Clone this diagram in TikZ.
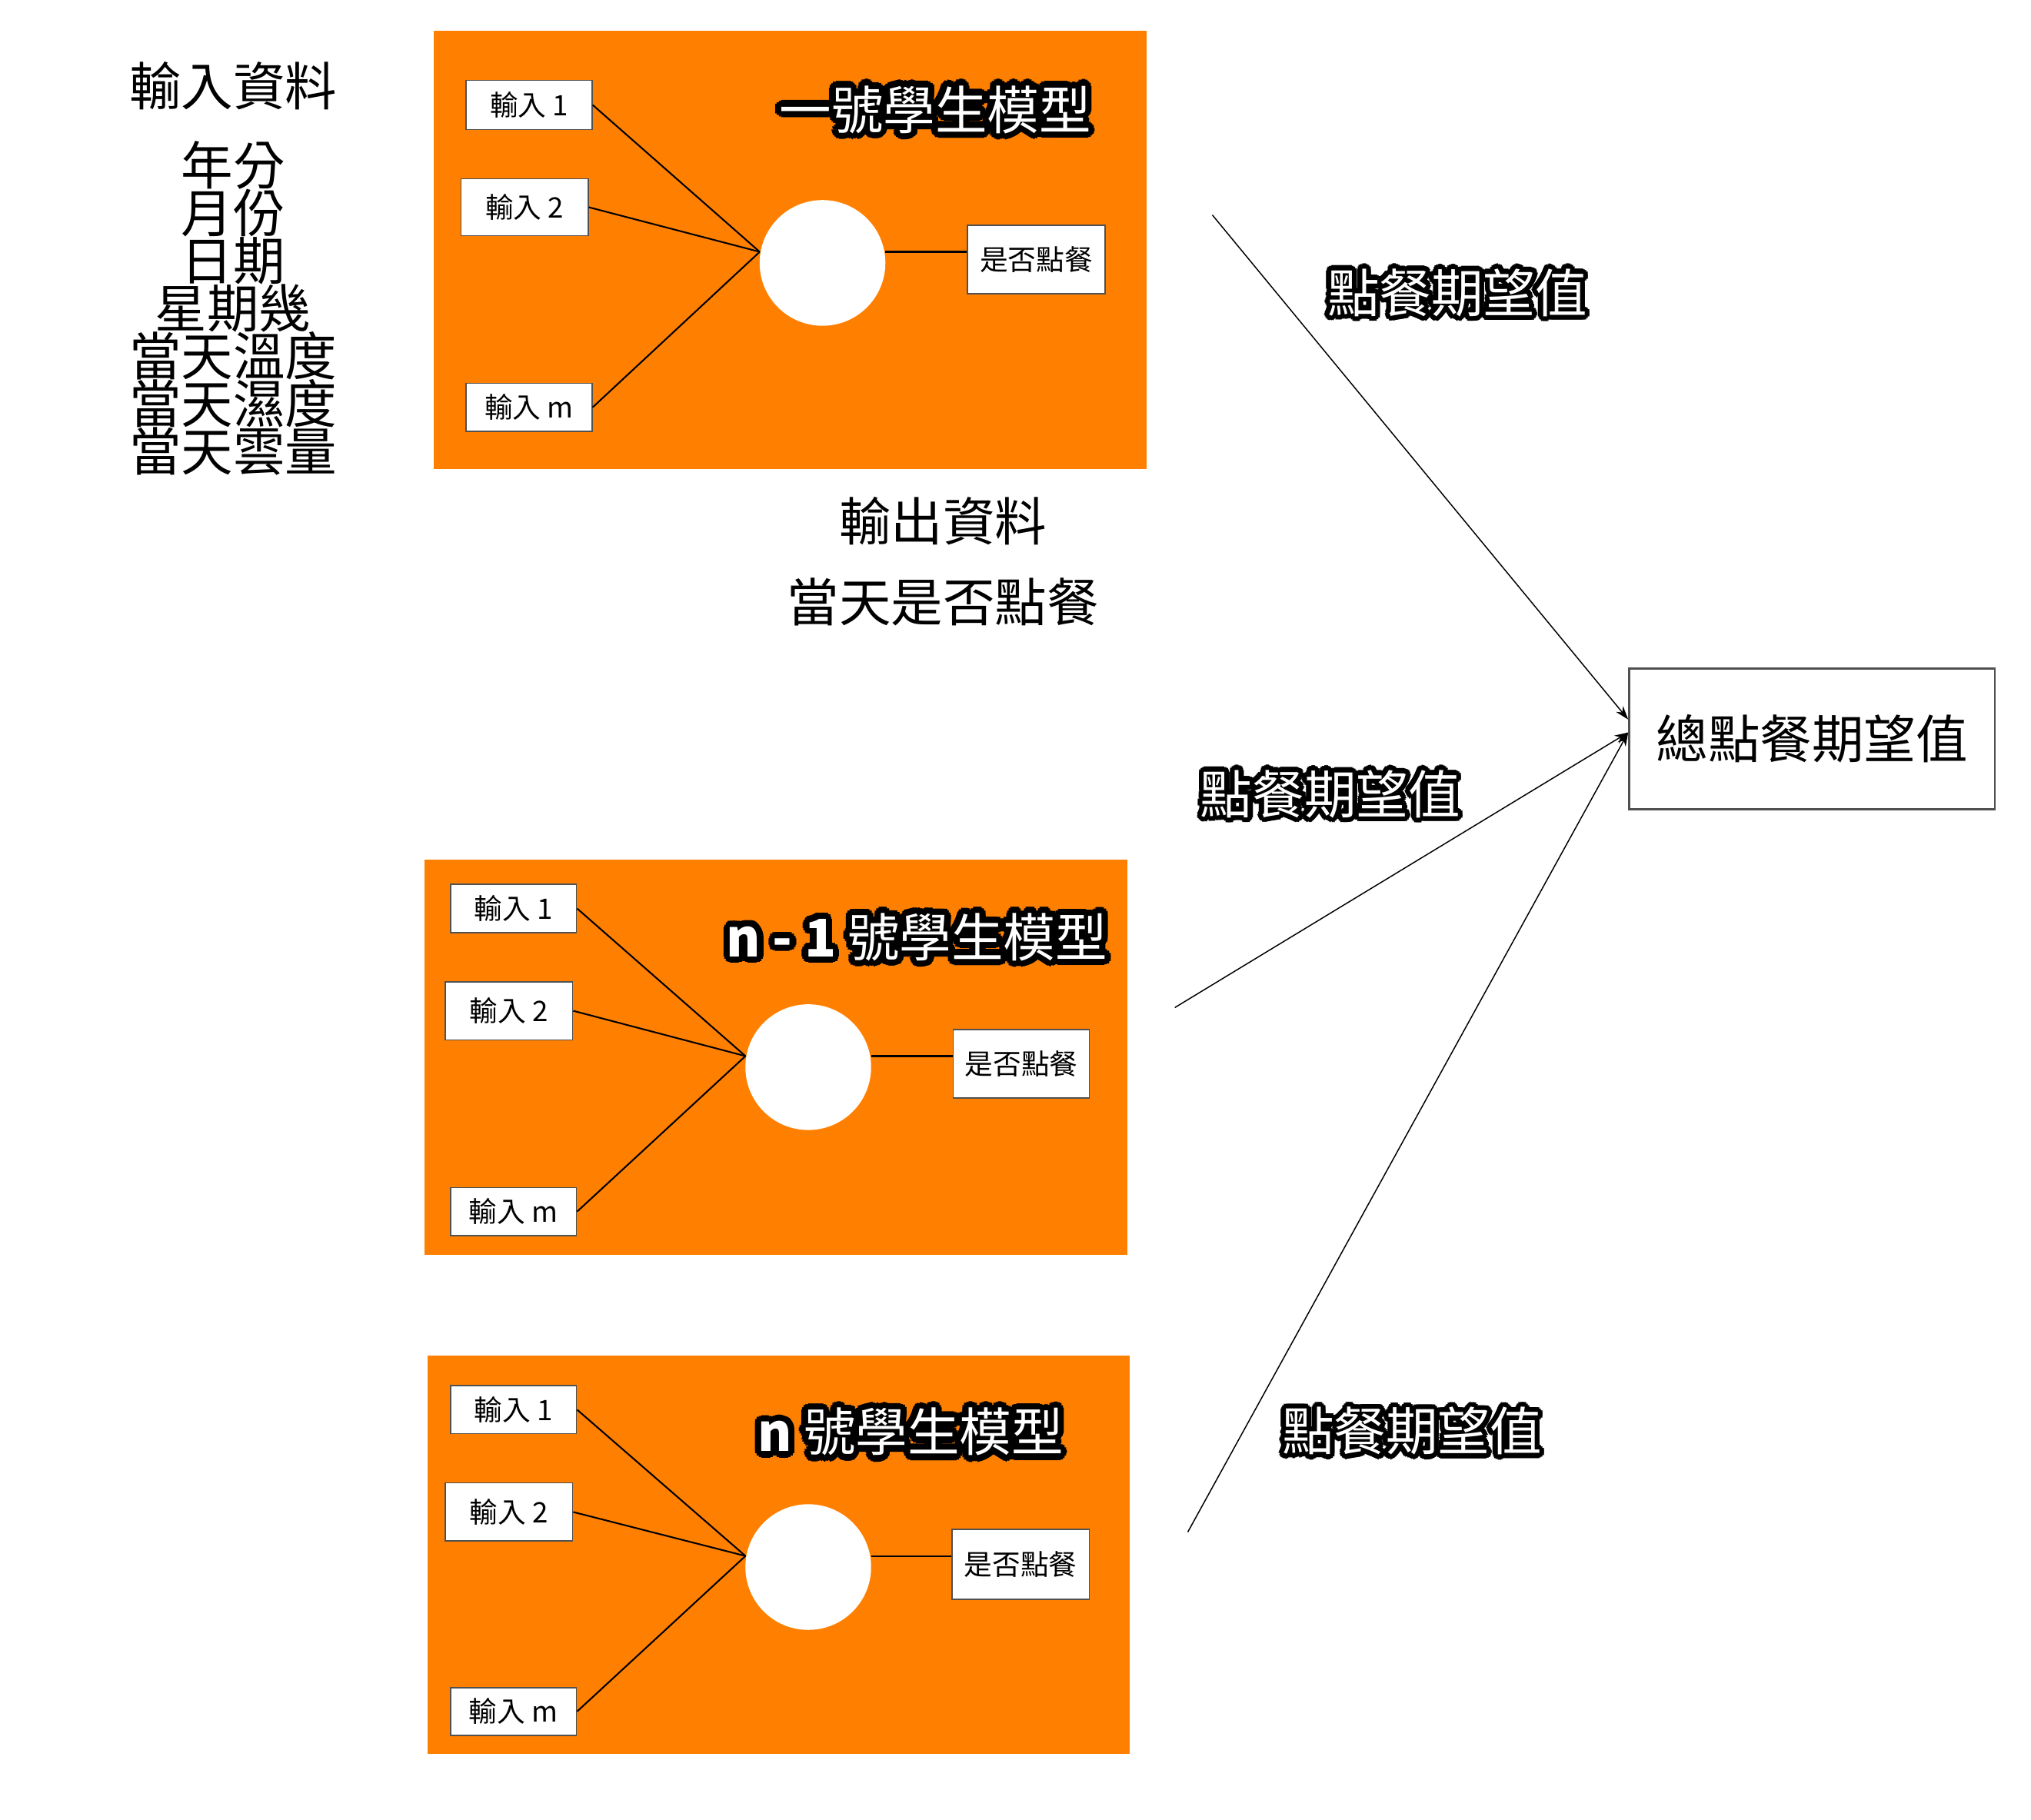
\documentclass[tikz,border=0pt]{standalone}
\usepackage{fontspec}
\setmainfont{Noto Sans CJK TC}
\usepackage{xcolor}
\usepackage{contour}
\definecolor{model}{HTML}{ff8000}
\definecolor{frame}{HTML}{505050}
\newcommand{\heading}[1]{\contourlength{1.4pt}{\color{white}\contour{black}{#1}}}
\newcommand{\glowtext}[1]{\contourlength{1.1pt}{\color{white}\contour{black}{#1}}}
\tikzset{
    modelbox/.style={fill=model, draw=none, inner sep=0pt},
    inbox/.style={draw=frame, line width=0.3pt, fill=white, inner sep=0pt,
        font=\fontsize{6.2}{7}\selectfont},
    neuron/.style={circle, fill=white, draw=none, minimum size=0.97cm, inner sep=0pt},
    big/.style={inner sep=0pt, font=\fontsize{11.4}{12}\selectfont},
    wire/.style={line width=0.35pt},
    sum/.style={line width=0.25pt, -{Stealth[length=3pt, width=2pt]}}
}
\usetikzlibrary{arrows.meta}

\begin{document}
\begin{tikzpicture}[x=0.01cm, y=-0.01cm]
        \useasboundingbox (0,0) rectangle (1568,1405);

        % input data
        \node[big] (intitle) at (180,66) {輸入資料};
        \node[big, align=center, font={\fontsize{11.4}{10.45}\selectfont\lineskiplimit=-20pt}] (features) at (180,238)
            {年分\\月份\\日期\\星期幾\\當天溫度\\當天濕度\\當天雲量};

        % model 1
        \node[modelbox, minimum width=5.50cm, minimum height=3.38cm] (m1) at (610,193) {};
        \node[inbox, minimum width=0.97cm, minimum height=0.38cm] (in1a) at (408.5,81) {輸入 1};
        \node[inbox, minimum width=0.98cm, minimum height=0.44cm] (in2a) at (405,160) {輸入 2};
        \node[inbox, minimum width=0.97cm, minimum height=0.37cm] (inma) at (408.5,314.5) {輸入 m};
        \node[neuron] (n1) at (635,203) {};
        \node[inbox, minimum width=1.06cm, minimum height=0.53cm] (outa) at (800,200.5) {是否點餐};
        \node[big] (t1) at (722,87) {\heading{一號學生模型}};
        \draw[wire] (in1a.east) -- (n1.170);
        \draw[wire] (in2a.east) -- (n1.170);
        \draw[wire] (inma.east) -- (n1.170);
        \draw[wire] (n1.10) -- (n1.10 -| outa.west);

        \node[big] (outtitle) at (728,402) {輸出資料};
        \node[big] (outtext) at (728,465) {當天是否點餐};

        % model n-1
        \node[modelbox, minimum width=5.42cm, minimum height=3.05cm] (m2) at (599,816.5) {};
        \node[inbox, minimum width=0.97cm, minimum height=0.37cm] (in1b) at (396.5,701.5) {輸入 1};
        \node[inbox, minimum width=0.98cm, minimum height=0.45cm] (in2b) at (393,780.5) {輸入 2};
        \node[inbox, minimum width=0.97cm, minimum height=0.37cm] (inmb) at (396.5,935.5) {輸入 m};
        \node[neuron] (n2) at (624,824) {};
        \node[inbox, minimum width=1.05cm, minimum height=0.53cm] (outb) at (788.5,821.5) {是否點餐};
        \node[big] (t2) at (708,726) {\heading{\textbf{n - 1} 號學生模型}};
        \draw[wire] (in1b.east) -- (n2.170);
        \draw[wire] (in2b.east) -- (n2.170);
        \draw[wire] (inmb.east) -- (n2.170);
        \draw[wire] (n2.10) -- (n2.10 -| outb.west);

        % model n
        \node[modelbox, minimum width=5.42cm, minimum height=3.07cm] (m3) at (601,1200.5) {};
        \node[inbox, minimum width=0.97cm, minimum height=0.37cm] (in1c) at (396.5,1088.5) {輸入 1};
        \node[inbox, minimum width=0.98cm, minimum height=0.45cm] (in2c) at (393,1167.5) {輸入 2};
        \node[inbox, minimum width=0.97cm, minimum height=0.37cm] (inmc) at (396.5,1321.5) {輸入 m};
        \node[neuron] (n3) at (624,1210) {};
        \node[inbox, minimum width=1.06cm, minimum height=0.54cm] (outc) at (788,1208) {是否點餐};
        \node[big] (t3) at (703,1108) {\heading{\textbf{n} 號學生模型}};
        \draw[wire] (in1c.east) -- (n3.170);
        \draw[wire] (in2c.east) -- (n3.170);
        \draw[wire] (inmc.east) -- (n3.170);
        \draw[wire] (n3.10) -- (n3.10 -| outc.west);

        % total
        \node[draw=frame, line width=0.5pt, minimum width=2.82cm, minimum height=1.09cm,
            big] (tot) at (1399,570.5) {總點餐期望值};
        \coordinate (e1) at (936,166);
        \coordinate (e2) at (907,778);
        \coordinate (e3) at (917,1183);
        \draw[sum] (e1) -- (tot.174);
        \draw[sum] (e2) -- (tot.178);
        \draw[sum] (e3) -- (tot.178);
        \node[big] (v1) at (1125,228) {\glowtext{點餐期望值}};
        \node[big] (v2) at (1027,615) {\glowtext{點餐期望值}};
        \node[big] (v3) at (1090,1107) {\glowtext{點餐期望值}};
    \end{tikzpicture}
\end{document}
